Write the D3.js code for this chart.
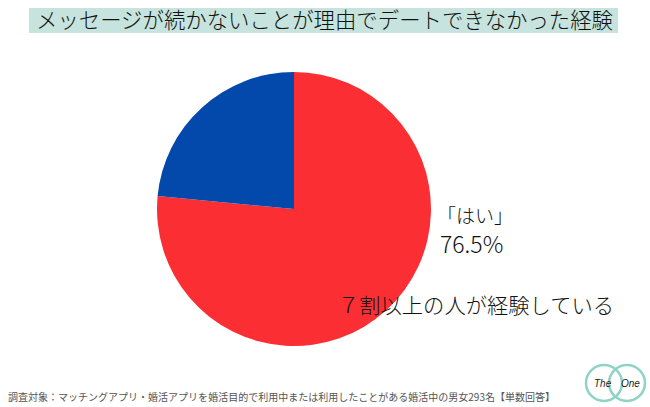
<!DOCTYPE html>
<html><head><meta charset="utf-8">
<script src="https://cdn.jsdelivr.net/npm/d3@7"></script>
<style>body{margin:0;background:#fff}svg{display:block}</style>
</head><body>
<script>
const categories = ["はい", "いいえ"];
const values = [76.5, 23.5];
const colors = ["#fb2f33", "#0349ab"];
const titleText = "メッセージが続かないことが理由でデートできなかった経験";
const labelLine1 = "「はい」";
const labelLine2 = "76.5%";
const noteText = "７割以上の人が経験している";
const footText = "調査対象：マッチングアプリ・婚活アプリを婚活目的で利用中または利用したことがある婚活中の男女293名【単数回答】";

const W = 650, H = 407;
const svg = d3.select("body").append("svg").attr("width", W).attr("height", H);
const font = "'Noto Sans CJK JP', sans-serif";

// title
svg.append("rect").attr("x", 29).attr("y", 8).attr("width", 589).attr("height", 25).attr("fill", "#c6e4dd");
svg.append("text").attr("x", 36).attr("y", 28).attr("font-family", font).attr("font-size", 22).attr("font-weight", 300)
  .attr("fill", "#111").attr("textLength", 577).attr("lengthAdjust", "spacingAndGlyphs").text(titleText);

// pie
const pie = d3.pie().sort(null).value(d => d)(values);
const arc = d3.arc().innerRadius(0).outerRadius(137);
const g = svg.append("g").attr("transform", "translate(294,209)");
g.selectAll("path").data(pie).enter().append("path").attr("d", arc).attr("fill", (d, i) => colors[i]);

// labels
svg.append("text").attr("x", 437).attr("y", 223).attr("font-family", font).attr("font-size", 19).attr("font-weight", 300).attr("fill", "#111").text(labelLine1);
svg.append("text").attr("x", 440).attr("y", 253).attr("font-family", font).attr("font-size", 23).attr("font-weight", 300).attr("fill", "#111").text(labelLine2);
svg.append("text").attr("x", 338).attr("y", 313).attr("font-family", font).attr("font-size", 21).attr("font-weight", 300).attr("fill", "#111")
  .attr("textLength", 276).attr("lengthAdjust", "spacingAndGlyphs").text(noteText);

// footer
svg.append("text").attr("x", 8).attr("y", 401).attr("font-family", font).attr("font-size", 10).attr("fill", "#555")
  .attr("textLength", 547).attr("lengthAdjust", "spacingAndGlyphs").text(footText);

// logo
const lg = svg.append("g");
lg.append("circle").attr("cx", 604).attr("cy", 383).attr("r", 18).attr("fill", "none").attr("stroke", "#8fd3c4").attr("stroke-width", 2.5);
lg.append("circle").attr("cx", 627).attr("cy", 383).attr("r", 18).attr("fill", "none").attr("stroke", "#8fd3c4").attr("stroke-width", 2.5);
lg.append("text").attr("x", 594).attr("y", 387).attr("font-family", "Liberation Sans, sans-serif").attr("font-style", "italic").attr("font-size", 10).attr("fill", "#222").text("The");
lg.append("text").attr("x", 621).attr("y", 387).attr("font-family", "Liberation Sans, sans-serif").attr("font-style", "italic").attr("font-size", 10).attr("fill", "#222").text("One");
</script>
</body></html>
